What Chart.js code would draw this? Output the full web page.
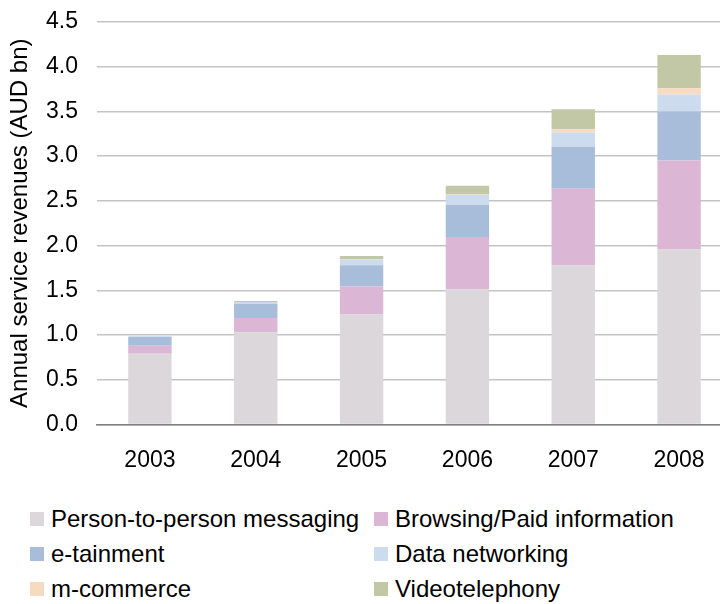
<!DOCTYPE html>
<html>
<head>
<meta charset="utf-8">
<script src="https://cdn.jsdelivr.net/npm/chart.js@4/dist/chart.umd.min.js"></script>
<style>
  html, body { margin:0; padding:0; background:#fff; overflow:hidden; width:720px; height:604px; }
  #wrap { position:relative; width:732px; height:496px; }
  #legend { position:absolute; left:30px; top:505px; width:690px; font-family:"Liberation Sans", Arial, sans-serif; font-size:24px; color:#000; }
  .item { position:absolute; display:flex; align-items:center; white-space:nowrap; height:28px; }
  .box { width:14px; height:14px; margin-right:7px; }
</style>
</head>
<body>
<div id="wrap"><canvas id="c" width="732" height="496"></canvas></div>
<div id="legend"></div>
<script>
// ── DATA ─────────────────────────────────────────────────────────
const years      = ['2003','2004','2005','2006','2007','2008'];
const messaging  = [0.79, 1.03, 1.23, 1.51, 1.78, 1.96];
const browsing   = [0.09, 0.16, 0.315, 0.585, 0.855, 0.99];
const etainment  = [0.10, 0.16, 0.235, 0.36, 0.47, 0.55];
const networking = [0.005, 0.02, 0.065, 0.11, 0.16, 0.19];
const mcommerce  = [0.0, 0.0, 0.003, 0.005, 0.035, 0.07];
const videotel   = [0.0, 0.01, 0.035, 0.10, 0.225, 0.37];
const yTicks     = [0, 0.5, 1.0, 1.5, 2.0, 2.5, 3.0, 3.5, 4.0, 4.5];

const series = [
  { label:'Person-to-person messaging', data:messaging,  color:'#dbd7da' },
  { label:'Browsing/Paid information',  data:browsing,   color:'#dcb7d5' },
  { label:'e-tainment',                 data:etainment,  color:'#a7bdd9' },
  { label:'Data networking',            data:networking, color:'#ccdcee' },
  { label:'m-commerce',                 data:mcommerce,  color:'#f6dbc0' },
  { label:'Videotelephony',             data:videotel,   color:'#c2c8a6' }
];

const FONT = '"Liberation Sans", Arial, sans-serif';
Chart.defaults.font.family = FONT;
Chart.defaults.color = '#000';

new Chart(document.getElementById('c'), {
  type: 'bar',
  data: {
    labels: years,
    datasets: series.map(s => ({
      label: s.label, data: s.data, backgroundColor: s.color,
      borderWidth: 0, barPercentage: 0.41, categoryPercentage: 1.0
    }))
  },
  options: {
    responsive:false, animation:false,
    layout:{ padding:{ top:2, left:0, right:0, bottom:0 } },
    plugins:{ legend:{ display:false }, tooltip:{ enabled:false } },
    scales:{
      x:{
        stacked:true,
        grid:{ display:false, drawTicks:false },
        border:{ color:'#7f7f7f', width:1.5 },
        ticks:{ font:{ size:23 }, padding:22, color:'#000' }
      },
      y:{
        stacked:true, min:0, max:4.5,
        afterBuildTicks: sc => { sc.ticks = yTicks.map(v => ({ value:v })); },
        afterFit: sc => { sc.width = 97; sc.paddingTop = 22; },
        grid:{ color:'#c4c4c4', lineWidth:1.5, drawTicks:false },
        border:{ display:false },
        ticks:{ font:{ size:23 }, padding:19, color:'#000', callback: v => Number(v).toFixed(1) },
        title:{ display:true, text:'Annual service revenues (AUD bn)', font:{ size:24 }, color:'#000', padding:{ top:6, bottom:0 } }
      }
    }
  }
});

// Legend (two columns)
const leg = document.getElementById('legend');
series.forEach((s, i) => {
  const col = i % 2, row = Math.floor(i / 2);
  const el = document.createElement('div');
  el.className = 'item';
  el.style.left = (col * 344) + 'px';
  el.style.top = (row * 35) + 'px';
  el.innerHTML = `<span class="box" style="background:${s.color}"></span><span>${s.label}</span>`;
  leg.appendChild(el);
});
</script>
</body>
</html>
